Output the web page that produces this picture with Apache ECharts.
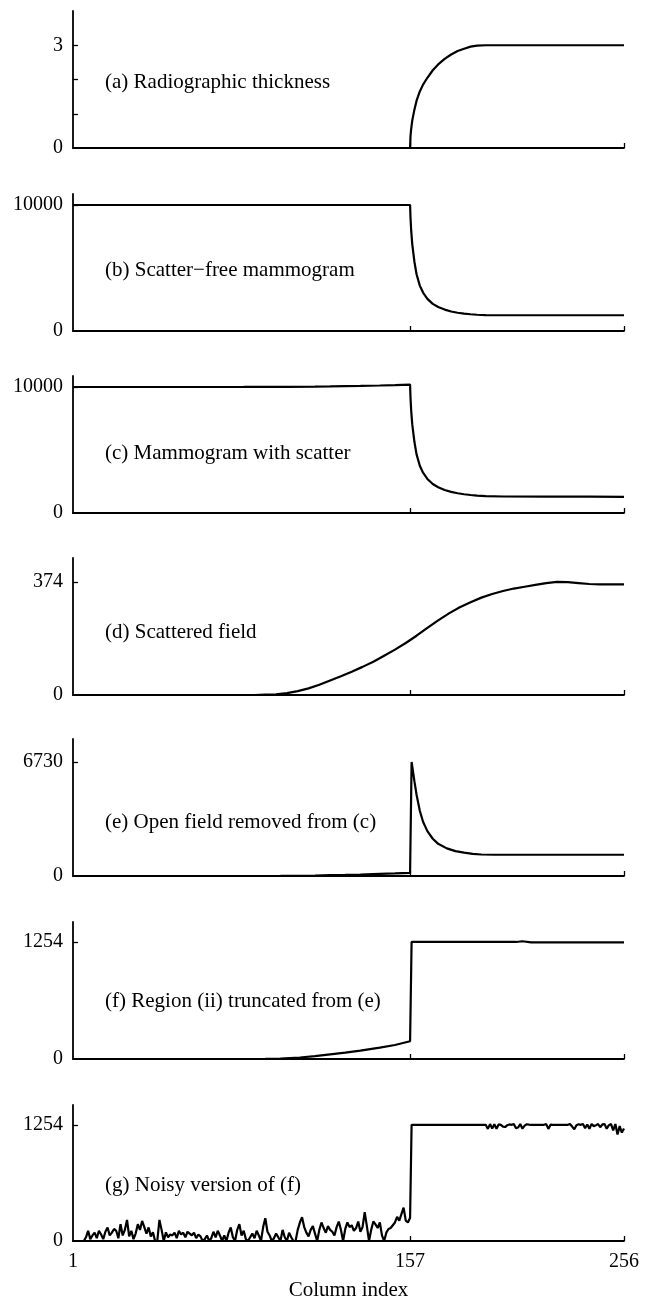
<!DOCTYPE html>
<html>
<head>
<meta charset="utf-8">
<script src="https://cdn.jsdelivr.net/npm/echarts@6/dist/echarts.min.js"></script>
<style>
  html, body { margin: 0; padding: 0; background: #fff; }
  #chart { width: 654px; height: 1302px; }
</style>
</head>
<body>
<div id="chart"></div>
<script>
// ---- profile data along the image row: [column index, value] ----

// (a) radiographic thickness
const thickness = [
  [1, 0], [157, 0], [157.2, 0.35], [157.5, 0.55], [158, 0.8], [159, 1.12], [160, 1.38],
  [161.5, 1.65], [163, 1.85], [165, 2.05], [167.5, 2.27], [170, 2.44], [173, 2.6],
  [176, 2.73], [179, 2.83], [182, 2.9], [185, 2.96], [188, 2.99], [192, 3], [256, 3]
];

// (b) scatter-free mammogram
const scatterFree = [
  [1, 10000], [157, 10000], [157.2, 9000], [157.5, 8000], [158, 6900], [159, 5500],
  [160, 4500], [161.5, 3600], [163, 3050], [165, 2550], [167.5, 2150], [170, 1900],
  [173, 1700], [176, 1550], [179, 1450], [182, 1380], [185, 1330], [188, 1290],
  [192, 1260], [200, 1250], [256, 1250]
];

// (c) mammogram with scatter
const withScatter = [
  [1, 10000], [40, 10000], [80, 10005], [100, 10015], [113, 10030], [120, 10045],
  [127, 10065], [134, 10085], [143, 10120], [150, 10150], [157, 10190],
  [157.2, 9150], [157.5, 8150], [158, 7050], [159, 5650], [160, 4650], [161.5, 3750],
  [163, 3200], [165, 2700], [167.5, 2300], [170, 2040], [173, 1830], [176, 1680],
  [179, 1570], [182, 1490], [185, 1430], [188, 1380], [192, 1340], [200, 1310],
  [220, 1300], [240, 1295], [256, 1285]
];

// (d) scattered field
const scatterField = [
  [1, 0], [85, 0], [90, 1], [95, 2], [100, 6], [105, 13], [110, 22], [115, 34],
  [120, 48], [125, 62], [130, 77], [135, 93], [140, 110], [145, 130], [150, 150],
  [155, 172], [160, 196], [165, 222], [170, 247], [175, 270], [180, 290], [185, 307],
  [190, 322], [195, 334], [200, 344], [205, 352], [210, 358], [215, 364], [220, 370],
  [225, 374], [230, 373], [235, 370], [240, 367], [245, 366], [250, 366], [256, 366]
];

// (e) open field removed from (c)
const openRemoved = [
  [1, 0], [80, 0], [90, 1], [97, 3], [106, 16], [113, 30], [120, 50], [127, 68],
  [134, 89], [143, 122], [150, 150], [157, 190], [157.7, 6730], [159, 5600],
  [160, 4800], [161.5, 3850], [163, 3200], [165, 2650], [167.5, 2200], [170, 1900],
  [174, 1630], [178, 1470], [182, 1380], [186, 1310], [190, 1270], [196, 1254],
  [256, 1254]
];

// (f) region (ii) truncated from (e)
const truncated = [
  [1, 0], [80, 0], [90, 1], [97, 3], [106, 16], [113, 30], [120, 50], [127, 68],
  [134, 89], [143, 122], [150, 150], [157, 190], [157.7, 1254], [206, 1254],
  [209, 1262], [213, 1250], [256, 1250]
];

// (g) noisy version of (f): one value per column, columns 1..157
const noisyLeft = [
  0, 0, 0, 0, 0, 0, 40, 110, 20, 60, 90, 30, 110, 70, 20, 100, 146, 60, 90, 130,
  110, 30, 182, 60, 120, 228, 50, 110, 20, 80, 182, 120, 217, 150, 80, 146, 50, 93, 0, 0,
  228, 120, 0, 93, 40, 70, 60, 90, 30, 110, 70, 90, 40, 100, 80, 60, 90, 30, 70, 50,
  0, 20, 60, 0, 30, 100, 40, 110, 60, 0, 60, 0, 90, 146, 40, 0, 120, 182, 60, 110,
  20, 0, 40, 80, 30, 110, 60, 0, 150, 246, 100, 60, 0, 30, 80, 40, 0, 120, 40, 0,
  90, 40, 0, 0, 120, 200, 257, 150, 90, 50, 120, 160, 80, 0, 120, 200, 140, 90, 160, 120,
  100, 60, 150, 210, 120, 0, 130, 200, 150, 170, 110, 140, 210, 100, 150, 310, 160, 0, 120, 210,
  180, 140, 200, 60, 0, 90, 130, 140, 170, 200, 260, 220, 290, 360, 220, 200, 250
];
// flat plateau after the edge
const noisyPlateau = [[157.7, 1254], [191, 1254]];
// columns 192..256
const noisyRight = [
  1254, 1210, 1262, 1215, 1260, 1212, 1258, 1254, 1235, 1230, 1250, 1258, 1254, 1262, 1218, 1225,
  1262, 1212, 1245, 1260, 1256, 1254, 1254, 1254, 1254, 1254, 1254, 1254, 1262, 1210, 1256, 1254,
  1254, 1254, 1254, 1254, 1254, 1254, 1254, 1262, 1235, 1205, 1250, 1260, 1254, 1262, 1218, 1258,
  1212, 1262, 1240, 1250, 1262, 1228, 1258, 1262, 1212, 1250, 1262, 1195, 1262, 1150, 1240, 1170,
  1215
];

// axis extents and labelled ticks
const panelTitles = [
  '(a) Radiographic thickness',
  '(b) Scatter\u2212free mammogram',
  '(c) Mammogram with scatter',
  '(d) Scattered field',
  '(e) Open field removed from (c)',
  '(f) Region (ii) truncated from (e)',
  '(g) Noisy version of (f)'
];
const yMax = [4, 10873, 10873, 453, 8090, 1468, 1468];
const yLabelTicks = [[0, 3], [0, 10000], [0, 10000], [0, 374], [0, 6730], [0, 1254], [0, 1254]];
const yTickMarks = [[1, 2, 3], [10000], [10000], [374], [6730], [1254], [1254]];
const xTickMarks = [157, 256];
const xTickLabels = [1, 157, 256];

// ---- assemble ----
const noisy = [];
noisyLeft.forEach((v, i) => noisy.push([i + 1, v]));
noisyPlateau.forEach(p => noisy.push(p));
noisyRight.forEach((v, i) => noisy.push([192 + i, v]));

const seriesData = [thickness, scatterFree, withScatter, scatterField, openRemoved, truncated, noisy];

const FONT = '"Liberation Serif", "Times New Roman", serif';
const baselines = [148, 331, 513, 695, 876, 1059, 1242];
const titleOffset = [66, 61, 60, 63, 54, 58, 57];
const plotH = 137;
const lineCol = '#000';
const plain = v => String(v);

const grids = [], xAxes = [], yAxes = [], series = [], texts = [];
baselines.forEach((y0, i) => {
  grids.push({ left: 73, width: 551, top: y0 - plotH, height: plotH });
  const last = i === baselines.length - 1;
  xAxes.push({
    type: 'value', gridIndex: i, min: 1, max: 256,
    axisLine: { show: true, onZero: false, lineStyle: { color: lineCol, width: 1.8 } },
    axisTick: { show: true, inside: true, length: 5, customValues: xTickMarks,
      lineStyle: { color: lineCol, width: 1.3 } },
    axisLabel: { show: last, customValues: xTickLabels, margin: 11, formatter: plain,
      fontSize: 20, fontFamily: FONT, color: '#000' },
    splitLine: { show: false },
    name: last ? 'Column index' : '',
    nameLocation: 'middle', nameGap: 39,
    nameTextStyle: { fontSize: 21, fontFamily: FONT, color: '#000' }
  });
  yAxes.push({
    type: 'value', gridIndex: i, min: 0, max: yMax[i],
    axisLine: { show: true, onZero: false, lineStyle: { color: lineCol, width: 1.8 } },
    axisTick: { show: true, inside: true, length: 5, customValues: yTickMarks[i],
      lineStyle: { color: lineCol, width: 1.3 } },
    axisLabel: { customValues: yLabelTicks[i], margin: 10, formatter: plain,
      fontSize: 20, fontFamily: FONT, color: '#000' },
    splitLine: { show: false }
  });
  series.push({
    type: 'line', xAxisIndex: i, yAxisIndex: i, data: seriesData[i],
    showSymbol: false, symbol: 'none',
    lineStyle: { color: lineCol, width: 2.2 }
  });
  texts.push({
    type: 'text', x: 105, y: y0 - titleOffset[i],
    style: { text: panelTitles[i], fill: '#000', font: '21px ' + FONT, verticalAlign: 'middle' }
  });
});

const chart = echarts.init(document.getElementById('chart'), null, { renderer: 'canvas' });
chart.setOption({
  animation: false,
  backgroundColor: '#fff',
  grid: grids,
  xAxis: xAxes,
  yAxis: yAxes,
  series: series,
  graphic: texts
});
</script>
</body>
</html>
